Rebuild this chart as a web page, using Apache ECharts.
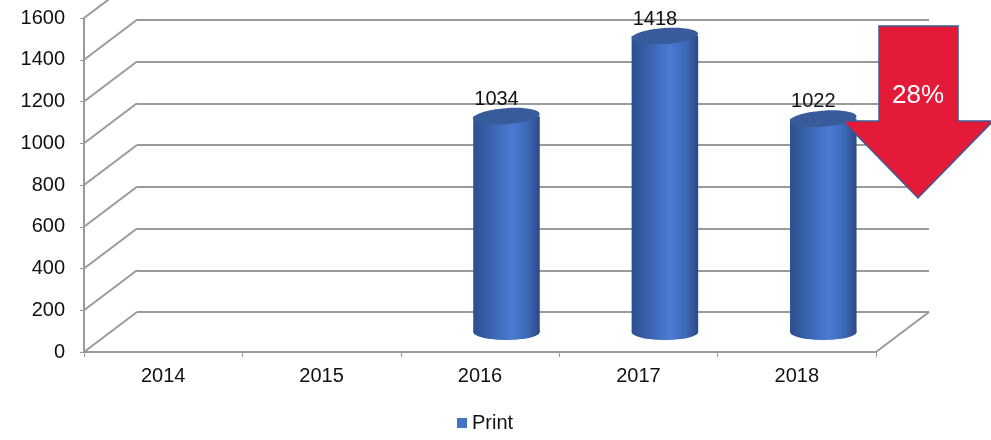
<!DOCTYPE html>
<html>
<head>
<meta charset="utf-8">
<script src="https://cdn.jsdelivr.net/npm/echarts@6/dist/echarts.min.js"></script>
<style>
  html, body { margin: 0; padding: 0; background: #fff; }
  #chart { width: 991px; height: 440px; }
</style>
</head>
<body>
<div id="chart"></div>
<script>
const categories = ['2014', '2015', '2016', '2017', '2018']
const printValues = [null, null, 1034, 1418, 1022]
const yTicks = [0, 200, 400, 600, 800, 1000, 1200, 1400, 1600]
const changeText = '28%'

// depth of the fake 3d box (front wall -> back wall)
const DX = 53
const DY = 40
const STEP = 41.75 // px per 200 units
const GRAY = '#9a9a9a'
const FONT = "'Liberation Sans', Arial, sans-serif"

const chart = echarts.init(document.getElementById('chart'))

function sideLines(params, api) {
  const p = api.coord([api.value(0), api.value(1)])
  const half = api.size([1, 0])[0] / 2
  const x0 = api.value(2) ? p[0] + half : p[0] - half
  return {
    type: 'line',
    shape: { x1: x0, y1: p[1], x2: x0 + DX, y2: p[1] - DY },
    style: { stroke: GRAY, lineWidth: 2 }
  }
}

function cylinder(params, api) {
  const v = api.value(1)
  if (v == null || isNaN(v)) return
  const top = api.coord([api.value(0), v])
  const base = api.coord([api.value(0), 0])
  const w = api.size([1, 0])[0] * 0.42
  const rx = w / 2
  const ry = 8
  const body = new echarts.graphic.LinearGradient(0, 0, 1, 0, [
    { offset: 0, color: '#2c4f8e' },
    { offset: 0.3, color: '#3c66b4' },
    { offset: 0.58, color: '#4a7bd3' },
    { offset: 0.82, color: '#3d67b6' },
    { offset: 1, color: '#2b4a86' }
  ])
  return {
    type: 'group',
    children: [
      {
        type: 'ellipse',
        shape: { cx: base[0], cy: base[1], rx: rx, ry: ry },
        style: { fill: body }
      },
      {
        type: 'rect',
        shape: { x: top[0] - rx, y: top[1], width: w, height: base[1] - top[1] },
        style: { fill: body }
      },
      {
        type: 'ellipse',
        shape: { cx: 0, cy: 0, rx: rx, ry: ry },
        x: top[0],
        y: top[1],
        rotation: 0.07,
        style: { fill: '#385b9c' }
      },
      {
        type: 'text',
        x: top[0] - 10,
        y: top[1] - 17,
        style: {
          text: String(v),
          fill: '#111',
          font: '20px ' + FONT,
          align: 'center',
          verticalAlign: 'middle'
        }
      }
    ]
  }
}

// front wall: 0 at y=352, 1600 at y=18
const front = { left: 84, right: 115, top: 18, bottom: 88 }
// middle plane (bars), axis max 1500 keeps the grid inside the canvas
const mid = { left: 84 + DX / 2, right: 115 - DX / 2, bottom: 88 + DY / 2 }
mid.top = 440 - mid.bottom - 7.5 * STEP
// back wall, axis max 1400
const back = { left: 84 + DX, right: 115 - DX, bottom: 88 + DY }
back.top = 440 - back.bottom - 7 * STEP

const option = {
  animation: false,
  textStyle: { fontFamily: FONT },
  grid: [front, mid, back],
  xAxis: [
    {
      gridIndex: 0,
      type: 'category',
      data: categories,
      axisLine: { lineStyle: { color: GRAY, width: 2 } },
      axisTick: { show: true, length: 5, lineStyle: { color: GRAY, width: 1 } },
      axisLabel: { color: '#111', fontSize: 20, margin: 14 }
    },
    { gridIndex: 1, type: 'category', data: categories, show: false },
    { gridIndex: 2, type: 'category', data: categories, show: false }
  ],
  yAxis: [
    {
      gridIndex: 0,
      type: 'value',
      min: 0,
      max: 1600,
      interval: 200,
      axisLine: { show: true, lineStyle: { color: GRAY, width: 2 } },
      axisTick: { show: true, length: 4, lineStyle: { color: GRAY, width: 1 } },
      axisLabel: { color: '#111', fontSize: 20, margin: 19, formatter: (v) => String(v) },
      splitLine: { show: false }
    },
    { gridIndex: 1, type: 'value', min: 0, max: 1500, show: false },
    {
      gridIndex: 2,
      type: 'value',
      min: 0,
      max: 1400,
      interval: 200,
      axisLine: { show: false },
      axisTick: { show: false },
      axisLabel: { show: false },
      splitLine: { lineStyle: { color: GRAY, width: 2 } }
    }
  ],
  legend: {
    data: ['Print'],
    bottom: 2,
    left: 452,
    icon: 'rect',
    itemWidth: 10,
    itemHeight: 10,
    itemGap: 4,
    textStyle: { color: '#111', fontSize: 20, fontFamily: FONT }
  },
  series: [
    {
      type: 'custom',
      xAxisIndex: 0,
      yAxisIndex: 0,
      silent: true,
      renderItem: sideLines,
      data: yTicks.map((t) => [0, t, 0]).concat([[categories.length - 1, 0, 1]]),
      z: 1
    },
    {
      name: 'Print',
      type: 'custom',
      xAxisIndex: 1,
      yAxisIndex: 1,
      itemStyle: { color: '#4472c4' },
      renderItem: cylinder,
      data: printValues.map((v, i) => [i, v]),
      z: 5
    }
  ],
  graphic: [
    {
      type: 'polygon',
      z: 100,
      shape: {
        points: [[879, 26], [958, 26], [958, 121], [993, 121], [918, 198], [843, 121], [879, 121]]
      },
      style: { fill: '#e31a38', stroke: '#3d5a96', lineWidth: 1.5 }
    },
    {
      type: 'text',
      z: 101,
      x: 918,
      y: 96,
      style: {
        text: changeText,
        fill: '#fff',
        font: '26px ' + FONT,
        align: 'center',
        verticalAlign: 'middle'
      }
    }
  ]
}

chart.setOption(option)
window.addEventListener('resize', () => chart.resize())
</script>
</body>
</html>
